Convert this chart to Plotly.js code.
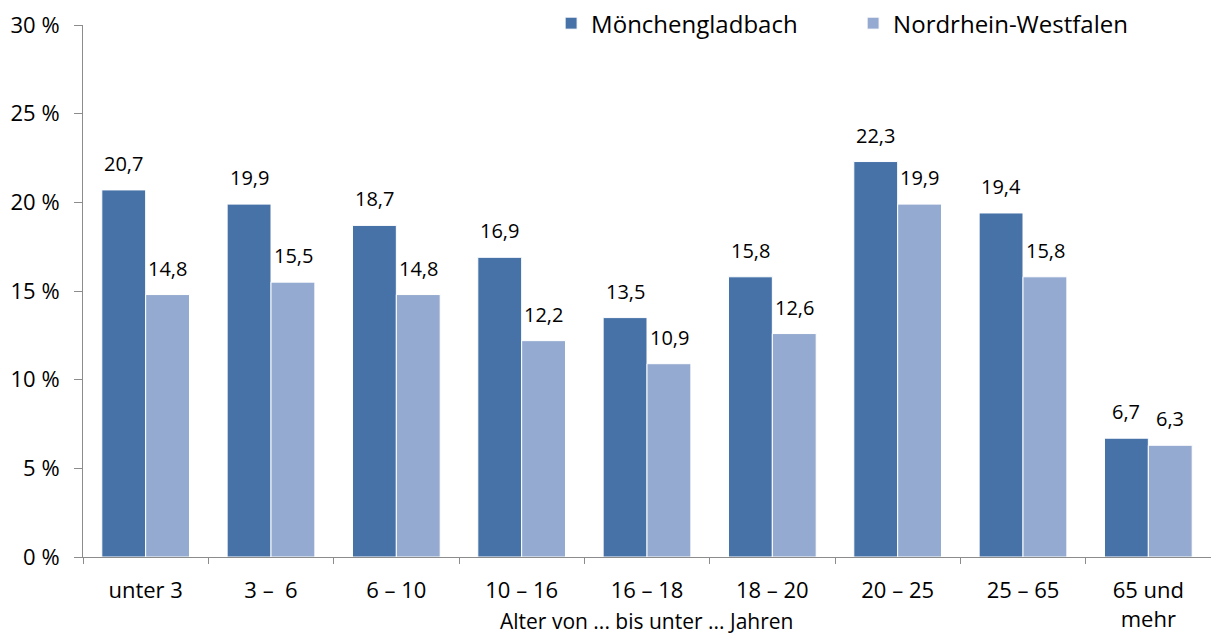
<!DOCTYPE html>
<html>
<head>
<meta charset="utf-8">
<script src="https://cdn.plot.ly/plotly-3.0.1.min.js"></script>
<style>html,body{margin:0;padding:0;background:#fff;}#chart{width:1211px;height:637px;}</style>
</head>
<body>
<div id="chart"></div>
<script>
const categories = ["unter 3", "3 –  6", "6 – 10", "10 – 16", "16 – 18", "18 – 20", "20 – 25", "25 – 65", "65 und<br>mehr"];
const seriesNames = ["Mönchengladbach", "Nordrhein-Westfalen"];
const moenchengladbach = [20.7, 19.9, 18.7, 16.9, 13.5, 15.8, 22.3, 19.4, 6.7];
const nrw = [14.8, 15.5, 14.8, 12.2, 10.9, 12.6, 19.9, 15.8, 6.3];
const yTickVals = [0, 5, 10, 15, 20, 25, 30];
const yTickText = ["0 %", "5 %", "10 %", "15 %", "20 %", "25 %", "30 %"];
const xTitle = "Alter von ... bis unter ... Jahren";

const FONT = "Open Sans, sans-serif";
const fmt = v => v.toFixed(1).replace(".", ",");

const traces = [
  {type: "bar", name: seriesNames[0], x: categories, y: moenchengladbach,
   marker: {color: "#4672A8", line: {color: "#ffffff", width: 1}}, hoverinfo: "skip"},
  {type: "bar", name: seriesNames[1], x: categories, y: nrw,
   marker: {color: "#95AAD0", line: {color: "#ffffff", width: 1}}, hoverinfo: "skip"}
];

const annotations = [];
categories.forEach((c, i) => {
  annotations.push({x: c, y: moenchengladbach[i], xref: "x", yref: "y", text: fmt(moenchengladbach[i]),
    showarrow: false, xanchor: "center", yanchor: "bottom", xshift: -22, yshift: 11,
    font: {family: FONT, size: 20, color: "#000"}});
  annotations.push({x: c, y: nrw[i], xref: "x", yref: "y", text: fmt(nrw[i]),
    showarrow: false, xanchor: "center", yanchor: "bottom", xshift: 22, yshift: 11,
    font: {family: FONT, size: 20, color: "#000"}});
});
annotations.push({x: 0.5, y: -0.121, xref: "paper", yref: "paper", text: xTitle, showarrow: false,
  xanchor: "center", yanchor: "middle", font: {family: FONT, size: 21, color: "#000"}});

const layout = {
  width: 1211, height: 637,
  margin: {l: 83, r: 0, t: 25, b: 80},
  paper_bgcolor: "#fff", plot_bgcolor: "#fff",
  font: {family: FONT, size: 22, color: "#000"},
  barmode: "group", bargap: 0.3, bargroupgap: 0,
  showlegend: true,
  legend: {orientation: "h", x: 0.415, xanchor: "left", y: 1.045, yanchor: "top",
           entrywidth: 257, entrywidthmode: "pixels",
           font: {family: FONT, size: 24, color: "#000"}, traceorder: "normal"},
  xaxis: {type: "category", showline: true, linecolor: "#8c8c8c", linewidth: 1,
          ticks: "outside", tickson: "boundaries", ticklen: 6, tickcolor: "#8c8c8c",
          showgrid: false, zeroline: false, ticklabelstandoff: 14,
          tickfont: {family: FONT, size: 22, color: "#000"}},
  yaxis: {range: [0, 30], tickvals: yTickVals, ticktext: yTickText, showline: true, linecolor: "#8c8c8c", linewidth: 1,
          ticks: "outside", ticklen: 8, tickcolor: "#8c8c8c", showgrid: false, zeroline: false,
          ticklabelstandoff: 10,
          tickfont: {family: FONT, size: 22, color: "#000"}},
  annotations: annotations
};

Plotly.newPlot("chart", traces, layout, {displayModeBar: false, staticPlot: true});
</script>
</body>
</html>
